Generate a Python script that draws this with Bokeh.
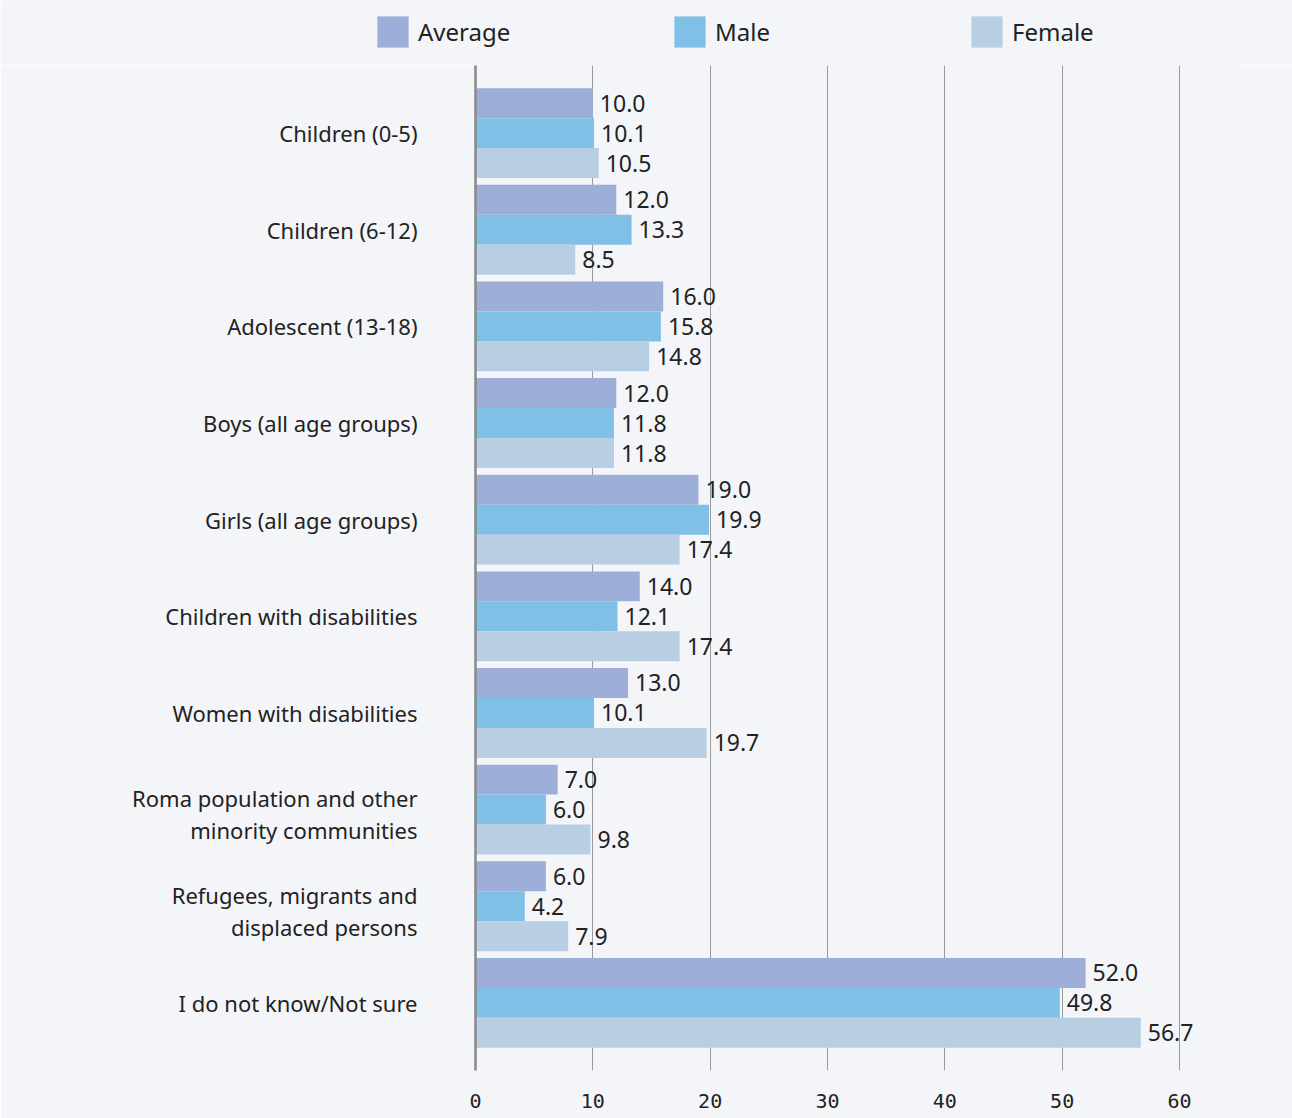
from bokeh.plotting import figure
from bokeh.models import ColumnDataSource, Range1d, FixedTicker, Legend, LegendItem
from bokeh.core.properties import value
from bokeh.embed import file_html
from bokeh.resources import INLINE

categories = [
    "Children (0-5)",
    "Children (6-12)",
    "Adolescent (13-18)",
    "Boys (all age groups)",
    "Girls (all age groups)",
    "Children with disabilities",
    "Women with disabilities",
    "Roma population and other\nminority communities",
    "Refugees, migrants and\ndisplaced persons",
    "I do not know/Not sure",
]
average = [10.0, 12.0, 16.0, 12.0, 19.0, 14.0, 13.0, 7.0, 6.0, 52.0]
male = [10.1, 13.3, 15.8, 11.8, 19.9, 12.1, 10.1, 6.0, 4.2, 49.8]
female = [10.5, 8.5, 14.8, 11.8, 17.4, 17.4, 19.7, 9.8, 7.9, 56.7]
series_names = ["Average", "Male", "Female"]
x_ticks = [0, 10, 20, 30, 40, 50, 60]

BG = "#f4f5f9"
COLORS = ["#9daed8", "#80bfe6", "#b8cfe3"]
FONT = "Noto Sans"
TXT = "#222222"

# ---- main chart ----
p = figure(width=1292, height=1053, output_backend="svg", toolbar_location=None,
           x_range=Range1d(0, 65.2), y_range=Range1d(9.7, -0.7),
           min_border_left=475, min_border_right=52, min_border_top=0, min_border_bottom=48)
p.background_fill_color = BG
p.border_fill_color = BG
p.outline_line_color = None

bar_h = 0.31
offsets = [-bar_h, 0.0, bar_h]
renderers = []
for name, vals, off, col in zip(series_names, [average, male, female], offsets, COLORS):
    ys = [i + off for i in range(len(categories))]
    src = ColumnDataSource(dict(y=ys, right=vals, lab=[f"{v:.1f}" for v in vals]))
    r = p.hbar(y="y", left=0, right="right", height=bar_h, source=src,
               fill_color=col, line_color=None)
    renderers.append(r)
    p.text(x="right", y="y", text="lab", source=src, x_offset=7,
           text_baseline="middle", text_align="left", text_font=value(FONT),
           text_font_size="23px", text_color=TXT)

# y axis: category labels (two-line labels split onto two ticks)
ticks = []
overrides = {}
for i, c in enumerate(categories):
    parts = c.split("\n")
    if len(parts) == 1:
        ticks.append(float(i))
        overrides[float(i)] = c
    else:
        t1 = round(i - 0.12, 2)
        t2 = round(i + 0.21, 2)
        ticks += [t1, t2]
        overrides[t1] = parts[0]
        overrides[t2] = parts[1]
p.yaxis.ticker = FixedTicker(ticks=ticks)
p.yaxis.major_label_overrides = overrides
p.yaxis.major_tick_line_color = None
p.yaxis.minor_tick_line_color = None
p.yaxis.axis_line_color = "#888888"
p.yaxis.axis_line_width = 2.5
p.yaxis.major_label_standoff = 52
p.yaxis.major_label_text_font = FONT
p.yaxis.major_label_text_font_size = "22px"
p.yaxis.major_label_text_color = TXT
p.ygrid.grid_line_color = None

p.xaxis.ticker = FixedTicker(ticks=x_ticks)
p.xaxis.axis_line_color = None
p.xaxis.major_tick_line_color = None
p.xaxis.minor_tick_line_color = None
p.xaxis.major_label_standoff = 17
p.xaxis.major_label_text_font = "DejaVu Sans Mono"
p.xaxis.major_label_text_font_size = "20px"
p.xaxis.major_label_text_color = TXT
p.xgrid.ticker = FixedTicker(ticks=x_ticks)
p.xgrid.grid_line_color = "#9a9a9a"
p.xgrid.grid_line_width = 1

# ---- legend strip on top (separate root, so its frame is not aligned to the chart's) ----
lf = figure(width=1292, height=65, output_backend="svg", toolbar_location=None,
            x_range=Range1d(0, 10), y_range=Range1d(0, 10),
            min_border_left=0, min_border_right=0, min_border_top=0, min_border_bottom=0)
lf.background_fill_color = BG
lf.border_fill_color = BG
lf.outline_line_color = None
lf.axis.visible = False
lf.grid.visible = False
leg_renderers = []
for col in COLORS:
    # proxy glyphs placed outside the visible range; only used for the legend swatches
    leg_renderers.append(lf.hbar(y=[-100], left=[0], right=[1], height=1,
                                 fill_color=col, line_color=None))

legend = Legend(items=[LegendItem(label=n, renderers=[r]) for n, r in zip(series_names, leg_renderers)],
                orientation="horizontal", location=(373, 14),
                glyph_width=39, glyph_height=39, label_standoff=6, label_width=200,
                spacing=52, padding=0, margin=0, border_line_color=None,
                background_fill_alpha=0, label_text_font=FONT, label_text_font_size="24px",
                label_text_color=TXT, label_height=39)
lf.add_layout(legend, "center")

open("out.html", "w").write(file_html([lf, p], INLINE))
